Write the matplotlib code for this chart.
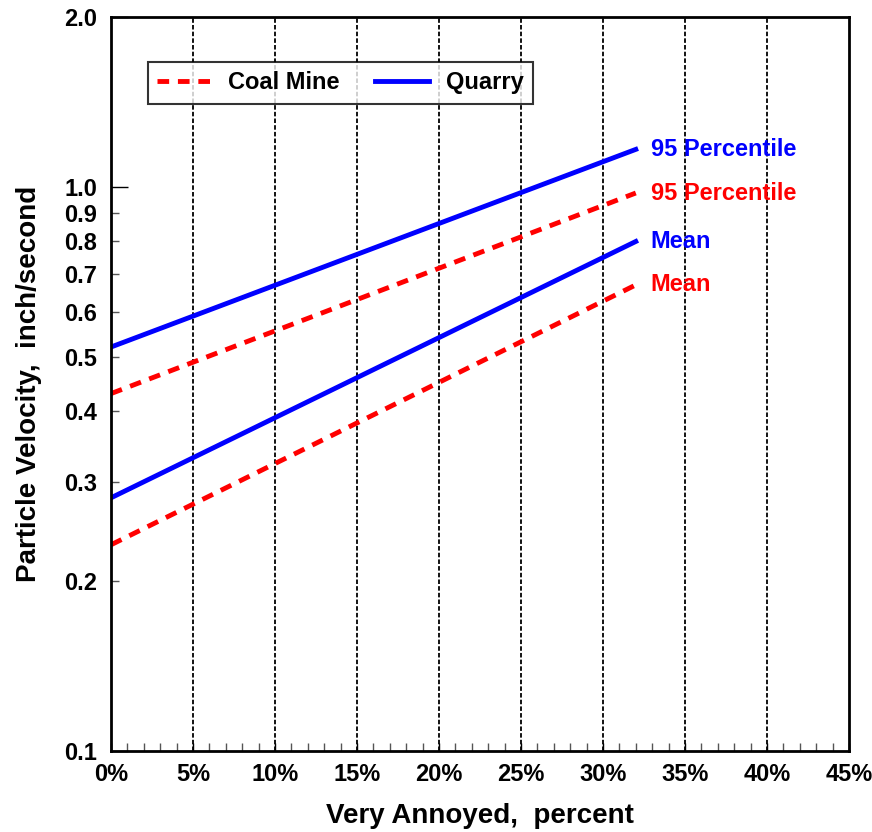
import matplotlib
matplotlib.use("Agg")
import matplotlib.pyplot as plt
from matplotlib.ticker import FixedLocator, FixedFormatter, MultipleLocator, FuncFormatter

plt.rcParams['font.family'] = ['Liberation Sans', 'DejaVu Sans']
plt.rcParams['font.weight'] = 'bold'

# data: very annoyed percent vs particle velocity (in/s)
pct = [0, 32]
coal_95 = [0.43, 0.975]
coal_mean = [0.232, 0.67]
quarry_95 = [0.52, 1.165]
quarry_mean = [0.281, 0.80]

y_minor = [0.2, 0.3, 0.4, 0.5, 0.6, 0.7, 0.8, 0.9]
y_major = [0.1, 1.0, 2.0]

BLUE = "#0000FF"
RED = "#FF0000"
TICK_FS = 17
LAB_FS = 20
TXT_FS = 17

fig = plt.figure(figsize=(8.72, 8.32), dpi=100)
ax = fig.add_axes([0.1273, 0.0974, 0.8463, 0.8822])

dash = (0, (2.4, 1.8))
ax.plot(pct, coal_95, color=RED, lw=3.5, linestyle=dash, label="Coal Mine")
ax.plot(pct, quarry_95, color=BLUE, lw=3.5, label="Quarry")
ax.plot(pct, coal_mean, color=RED, lw=3.5, linestyle=dash)
ax.plot(pct, quarry_mean, color=BLUE, lw=3.5)

ax.set_yscale("log")
ax.set_xlim(0, 45)
ax.set_ylim(0.1, 2.0)

# end-of-line labels
tx = 32.9
ax.text(tx, quarry_95[-1], "95 Percentile", color=BLUE, fontsize=TXT_FS, va="center", fontweight="bold")
ax.text(tx, coal_95[-1], "95 Percentile", color=RED, fontsize=TXT_FS, va="center", fontweight="bold")
ax.text(tx, quarry_mean[-1], "Mean", color=BLUE, fontsize=TXT_FS, va="center", fontweight="bold")
ax.text(tx, coal_mean[-1], "Mean", color=RED, fontsize=TXT_FS, va="center", fontweight="bold")

# y ticks
ax.yaxis.set_major_locator(FixedLocator(y_major))
ax.yaxis.set_major_formatter(FixedFormatter([f"{v:.1f}" for v in y_major]))
ax.yaxis.set_minor_locator(FixedLocator(y_minor))
ax.yaxis.set_minor_formatter(FixedFormatter([f"{v:.1f}" for v in y_minor]))
ax.tick_params(axis="y", which="major", direction="in", length=12, width=1, labelsize=TICK_FS, pad=10)
ax.tick_params(axis="y", which="minor", direction="in", length=6, width=1, color="#555555",
               labelsize=TICK_FS, pad=10)

# x ticks
ax.xaxis.set_major_locator(MultipleLocator(5))
ax.xaxis.set_minor_locator(MultipleLocator(1))
ax.xaxis.set_major_formatter(FuncFormatter(lambda v, p: f"{int(round(v))}%"))
ax.tick_params(axis="x", which="major", direction="in", length=6, width=1, labelsize=TICK_FS, pad=9)
ax.tick_params(axis="x", which="minor", direction="in", length=6, width=1, color="#555555")

for lab in ax.get_xticklabels() + ax.get_yticklabels() + ax.get_yticklabels(minor=True):
    lab.set_fontweight("bold")

# vertical dashed grid
for gx in range(5, 45, 5):
    ax.axvline(gx, color="black", lw=1.3, linestyle=(0, (2.5, 1.2)), zorder=0)

for s in ax.spines.values():
    s.set_linewidth(2)

ax.set_xlabel("Very Annoyed,  percent", fontsize=LAB_FS, fontweight="bold", labelpad=12)
ax.set_ylabel("Particle Velocity,  inch/second", fontsize=LAB_FS, fontweight="bold", labelpad=16)

leg = ax.legend(loc="upper left", bbox_to_anchor=(0.050, 0.939), ncol=2, frameon=True,
                fancybox=False, edgecolor="black", fontsize=TXT_FS, handlelength=2.3,
                columnspacing=1.5, borderpad=0.4, handletextpad=0.7, borderaxespad=0)
leg.get_frame().set_linewidth(1.5)
for t in leg.get_texts():
    t.set_fontweight("bold")

fig.savefig("out.png", dpi=100)
